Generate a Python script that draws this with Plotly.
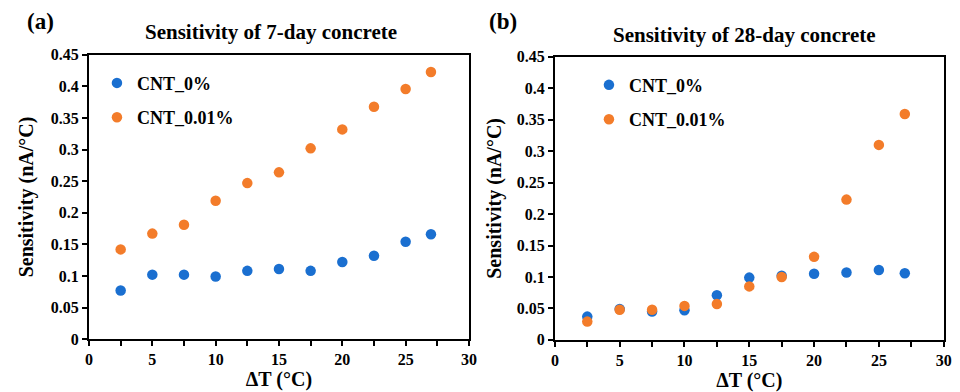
import plotly.graph_objects as go

delta_t = [2.5, 5, 7.5, 10, 12.5, 15, 17.5, 20, 22.5, 25, 27]

day7_cnt0 = [0.077, 0.102, 0.102, 0.099, 0.108, 0.111, 0.108, 0.122, 0.132, 0.154, 0.166]
day7_cnt001 = [0.142, 0.167, 0.181, 0.219, 0.247, 0.264, 0.302, 0.332, 0.368, 0.396, 0.423]

day28_cnt0 = [0.037, 0.049, 0.045, 0.047, 0.071, 0.099, 0.102, 0.105, 0.107, 0.111, 0.106]
day28_cnt001 = [0.029, 0.048, 0.048, 0.054, 0.057, 0.085, 0.100, 0.132, 0.223, 0.310, 0.359]

series_names = ["CNT_0%", "CNT_0.01%"]
panel_titles = ["Sensitivity of 7-day concrete", "Sensitivity of 28-day concrete"]
panel_labels = ["(a)", "(b)"]

BLUE = "#1a6fd0"
ORANGE = "#f37c2a"
FONT = "Liberation Serif, Times New Roman, DejaVu Serif, serif"

fig = go.Figure()

panels = [
    (day7_cnt0, day7_cnt001, "x", "y", "legend", "a"),
    (day28_cnt0, day28_cnt001, "x2", "y2", "legend2", "b"),
]
for a, b, xa, ya, lg, key in panels:
    for vals, name, col in ((a, series_names[0], BLUE), (b, series_names[1], ORANGE)):
        fig.add_trace(go.Scatter(
            x=delta_t, y=vals, mode="markers", name=name,
            marker=dict(color=col, size=10.5),
            xaxis=xa, yaxis=ya, legend=lg, legendgroup=key + name,
        ))

axis_font = dict(family=FONT, size=16, color="black", weight="bold")
title_font = dict(family=FONT, size=20, color="black", weight="bold")
head_font = dict(family=FONT, size=21, color="black", weight="bold")

def xaxis(domain, anchor):
    return dict(
        domain=domain, anchor=anchor, range=[0, 30], dtick=5, tick0=0,
        showline=True, linecolor="black", linewidth=2, mirror=True,
        ticks="outside", ticklen=5, tickwidth=2, tickcolor="black",
        minor=dict(dtick=2.5, ticks="outside", ticklen=5, tickwidth=2, tickcolor="black"),
        showgrid=False, zeroline=False, tickfont=axis_font, automargin=False,
        title=dict(text="ΔT (°C)", font=title_font, standoff=2),
    )

def yaxis(domain, anchor, standoff):
    return dict(
        domain=domain, anchor=anchor, range=[0, 0.45], dtick=0.05, tick0=0,
        showline=True, linecolor="black", linewidth=2, mirror=True,
        ticks="outside", ticklen=5, tickwidth=2, tickcolor="black",
        showgrid=False, zeroline=False, tickfont=axis_font, automargin=False,
        title=dict(text="Sensitivity (nA/°C)", font=title_font, standoff=standoff),
    )

leg_font = dict(family=FONT, size=18, color="black", weight="bold")

fig.update_layout(
    width=960, height=392,
    margin=dict(l=0, r=0, t=0, b=0),
    paper_bgcolor="white", plot_bgcolor="white",
    xaxis=xaxis([0.0927, 0.4885], "y"),
    yaxis=yaxis([0.135, 0.860], "x", 12),
    xaxis2=xaxis([0.578, 0.983], "y2"),
    yaxis2=yaxis([0.133, 0.855], "x2", 10),
    legend=dict(x=0.101, y=0.835, xanchor="left", yanchor="top", bgcolor="rgba(0,0,0,0)",
                font=leg_font, itemwidth=30, tracegroupgap=8, itemclick=False),
    legend2=dict(x=0.6135, y=0.83, xanchor="left", yanchor="top", bgcolor="rgba(0,0,0,0)",
                 font=leg_font, itemwidth=30, tracegroupgap=8, itemclick=False),
    showlegend=True,
    annotations=[
        dict(text=panel_titles[0], x=0.282, y=0.918, xref="paper", yref="paper", xanchor="center",
             yanchor="middle", showarrow=False, font=head_font),
        dict(text=panel_titles[1], x=0.776, y=0.91, xref="paper", yref="paper", xanchor="center",
             yanchor="middle", showarrow=False, font=head_font),
        dict(text=panel_labels[0], x=0.026, y=0.944, xref="paper", yref="paper", xanchor="left",
             yanchor="middle", showarrow=False,
             font=dict(family=FONT, size=23, color="black", weight="bold")),
        dict(text=panel_labels[1], x=0.507, y=0.944, xref="paper", yref="paper", xanchor="left",
             yanchor="middle", showarrow=False,
             font=dict(family=FONT, size=23, color="black", weight="bold")),
    ],
)

fig.write_html("out.html")
